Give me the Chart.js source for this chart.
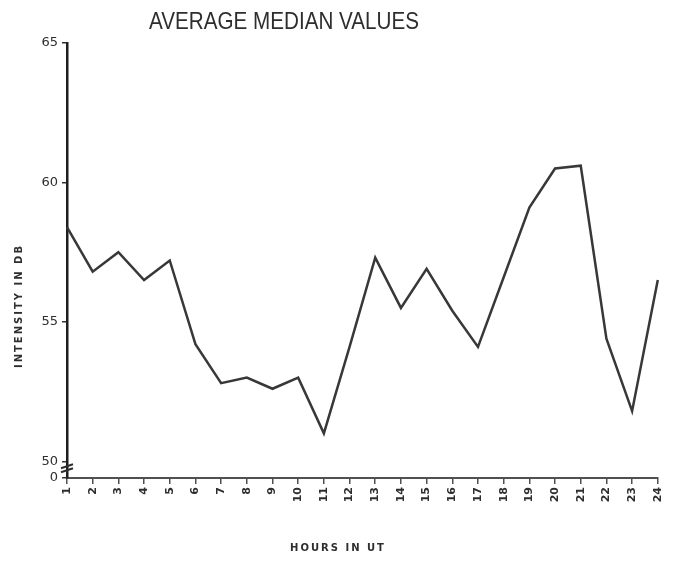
<!DOCTYPE html>
<html>
<head>
<meta charset="utf-8">
<title>Average Median Values</title>
<script src="https://cdn.jsdelivr.net/npm/chart.js"></script>
<style>
  body, html { margin: 0; background: #fff; }
  #chart { display: block; }
</style>
</head>
<body>
<canvas id="chart" width="674" height="565"></canvas>
<script>
  // values
  const hours = ['1', '2', '3', '4', '5', '6', '7', '8', '9', '10', '11', '12',
                 '13', '14', '15', '16', '17', '18', '19', '20', '21', '22', '23', '24'];
  const medianDb = [58.4, 56.8, 57.5, 56.5, 57.2, 54.2, 52.8, 53.0, 52.6, 53.0, 51.0, 54.1,
                    57.3, 55.5, 56.9, 55.4, 54.1, 56.6, 59.1, 60.5, 60.6, 54.4, 51.8, 56.5];
  // broken axis: the bottom of the scale stands for 0
  const yTickValues = [49.4, 50, 55, 60, 65];
  const yTickLabels = ['0', '50', '55', '60', '65'];

  const ink = '#2e2e2e';

  // hand lettering: title, axis titles and the axis break mark
  const lettering = {
    id: 'lettering',
    afterDraw(chart) {
      const ctx = chart.ctx;
      const y = chart.scales.y;
      const left = chart.chartArea.left;
      ctx.save();
      ctx.fillStyle = ink;
      ctx.textAlign = 'center';
      ctx.textBaseline = 'middle';

      // condensed stencil-like title
      ctx.save();
      ctx.font = '24px "Liberation Sans", sans-serif';
      ctx.translate(284, 22);
      ctx.scale(0.86, 1);
      ctx.fillText('AVERAGE MEDIAN VALUES', 0, 0);
      ctx.restore();

      ctx.font = 'bold 10px "DejaVu Sans", sans-serif';
      ctx.letterSpacing = '2px';
      ctx.fillText('HOURS IN UT', 338, 548);

      ctx.translate(19, 306);
      ctx.rotate(-Math.PI / 2);
      ctx.fillText('INTENSITY IN DB', 0, 0);
      ctx.restore();

      // zig-zag break on the y axis
      ctx.save();
      ctx.strokeStyle = ink;
      ctx.lineWidth = 2;
      [49.82, 49.68].forEach(v => {
        const py = y.getPixelForValue(v);
        ctx.beginPath();
        ctx.moveTo(left - 6, py + 2);
        ctx.lineTo(left + 6, py - 2);
        ctx.stroke();
      });
      ctx.restore();
    }
  };

  new Chart(document.getElementById('chart'), {
    type: 'line',
    data: {
      labels: hours,
      datasets: [{
        label: 'Average median',
        data: medianDb,
        borderColor: '#383838',
        borderWidth: 2.5,
        pointRadius: 0,
        tension: 0,
        fill: false
      }]
    },
    options: {
      responsive: false,
      animation: false,
      layout: { padding: { top: 43, right: 13, left: 0, bottom: 0 } },
      plugins: {
        legend: { display: false },
        title: { display: false },
        tooltip: { enabled: false }
      },
      scales: {
        x: {
          offset: false,
          afterFit: s => { s.height = 87; },
          border: { color: '#505050', width: 2 },
          grid: { drawOnChartArea: false, drawTicks: true, tickLength: 6, color: '#505050', lineWidth: 1.5 },
          ticks: {
            minRotation: 90,
            maxRotation: 90,
            autoSkip: false,
            padding: 3,
            color: ink,
            font: { family: '"DejaVu Sans", sans-serif', size: 11, weight: 'bold' }
          }
        },
        y: {
          min: 49.4,
          max: 65,
          afterFit: s => { s.width = 67; },
          afterBuildTicks: s => { s.ticks = yTickValues.map(v => ({ value: v })); },
          border: { color: '#1e1e1e', width: 2.5 },
          grid: { drawOnChartArea: false, drawTicks: true, tickLength: 5, color: '#333', lineWidth: 1.5 },
          ticks: {
            padding: 4,
            color: ink,
            font: { family: '"DejaVu Sans", sans-serif', size: 13 },
            callback: (value, index) => yTickLabels[index]
          }
        }
      }
    },
    plugins: [lettering]
  });
</script>
</body>
</html>
